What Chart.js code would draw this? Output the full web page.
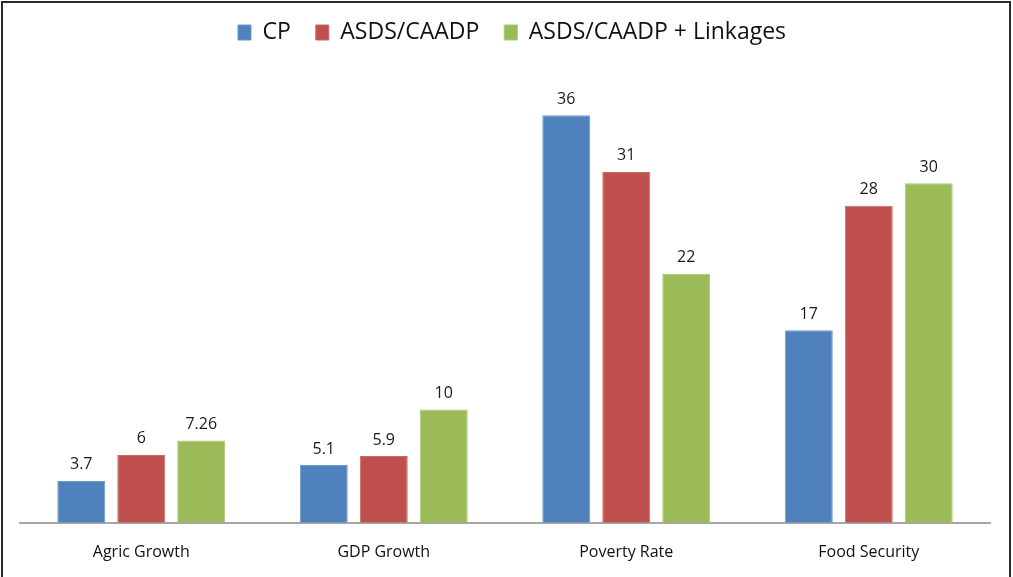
<!DOCTYPE html>
<html lang="en">
<head>
  <meta charset="UTF-8">
  <title>Scenario comparison</title>
  <script src="https://cdn.jsdelivr.net/npm/chart.js"></script>
  <style>
    body { margin: 0; background: #fff; }
    .wrap { position: relative; width: 1013px; height: 577px; overflow: hidden; }
    .frame {
      position: absolute; left: 1px; top: 1px; width: 1006px; height: 600px;
      border: 2px solid #2b2b2b; pointer-events: none;
    }
  </style>
</head>
<body>
  <div class="wrap">
    <canvas id="grafico" width="1013" height="577"></canvas>
    <div class="frame"></div>
  </div>

  <script>
    const categorias = ['Agric Growth', 'GDP Growth', 'Poverty Rate', 'Food Security'];
    const valoresCP = [3.7, 5.1, 36, 17];
    const valoresASDS = [6, 5.9, 31, 28];
    const valoresLinkages = [7.26, 10, 22, 30];

    // rótulos em cima das barras
    const rotulosValores = {
      id: 'rotulosValores',
      afterDatasetsDraw(chart) {
        const ctx = chart.ctx;
        ctx.save();
        ctx.font = '16px "Open Sans", "Liberation Sans", sans-serif';
        ctx.fillStyle = '#1a1a1a';
        ctx.textAlign = 'center';
        ctx.textBaseline = 'middle';
        chart.data.datasets.forEach((ds, i) => {
          chart.getDatasetMeta(i).data.forEach((bar, j) => {
            ctx.fillText(String(ds.data[j]), bar.x, bar.y - 16);
          });
        });
        ctx.restore();
      }
    };

    // altura fixa da legenda para a área do gráfico começar em y=70,
    // e um pequeno deslocamento para a direita como no original
    const ajusteLegenda = {
      id: 'ajusteLegenda',
      beforeInit(chart) {
        const leg = chart.legend;
        const fitOriginal = leg.fit;
        leg.fit = function () {
          fitOriginal.bind(this)();
          this.height = 74;
        };
        const drawOriginal = leg.draw;
        leg.draw = function () {
          const c = this.ctx;
          c.save();
          c.translate(7, 0);
          drawOriginal.bind(this)();
          c.restore();
        };
      }
    };

    const ctx = document.getElementById('grafico').getContext('2d');
    const grafico = new Chart(ctx, {
      type: 'bar',
      data: {
        labels: categorias,
        datasets: [
          { label: 'CP', data: valoresCP, backgroundColor: '#4F81BD', borderColor: '#6f97c8', borderWidth: 1 },
          { label: 'ASDS/CAADP', data: valoresASDS, backgroundColor: '#C0504D', borderColor: '#c96a67', borderWidth: 1 },
          { label: 'ASDS/CAADP + Linkages', data: valoresLinkages, backgroundColor: '#9BBB59', borderColor: '#aac774', borderWidth: 1 }
        ]
      },
      options: {
        responsive: false,
        animation: false,
        categoryPercentage: 0.742,
        barPercentage: 0.8,
        layout: { padding: { top: -4, left: 20, right: 23, bottom: 3 } },
        plugins: {
          legend: {
            position: 'top',
            labels: {
              font: { size: 23, family: '"Open Sans", "Liberation Sans", sans-serif' },
              color: '#111',
              boxWidth: 13,
              boxHeight: 15,
              padding: 25
            }
          },
          tooltip: { enabled: false }
        },
        scales: {
          x: {
            grid: { display: false },
            border: { color: '#a6a6a6', width: 2 },
            ticks: { font: { size: 16, family: '"Open Sans", "Liberation Sans", sans-serif' }, color: '#111', padding: 12, maxRotation: 0 }
          },
          y: {
            display: false,
            min: 0,
            max: 40
          }
        }
      },
      plugins: [rotulosValores, ajusteLegenda]
    });
  </script>
</body>
</html>
